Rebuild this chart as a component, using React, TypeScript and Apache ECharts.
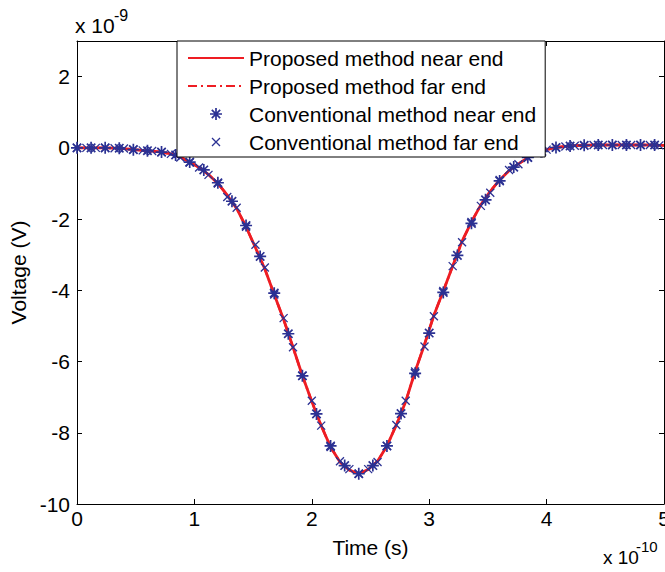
import React, { useEffect, useRef } from 'react';
import * as echarts from 'echarts';

// Time axis values are in units of 1e-10 s, voltage values in units of 1e-9 V
const curveTimes = [
  0, 0.08, 0.16, 0.24, 0.32, 0.40, 0.48, 0.56, 0.64, 0.72,
  0.80, 0.88, 0.96, 1.04, 1.12, 1.20, 1.28, 1.36, 1.44, 1.52,
  1.60, 1.68, 1.76, 1.84, 1.92, 2.00, 2.08, 2.16, 2.24, 2.32,
  2.40, 2.48, 2.56, 2.64, 2.72, 2.80, 2.88, 2.96, 3.04, 3.12,
  3.20, 3.28, 3.36, 3.44, 3.52, 3.60, 3.68, 3.76, 3.84, 3.92,
  4.00, 4.08, 4.16, 4.24, 4.32, 4.40, 4.48, 4.56, 4.64, 4.72,
  4.80, 4.88, 4.96, 5.00,
];
const curveValues = [
  0.00, 0.00, 0.00, 0.00, -0.01, -0.02, -0.05, -0.07, -0.09, -0.12,
  -0.17, -0.26, -0.40, -0.55, -0.75, -1.00, -1.33, -1.70, -2.22, -2.80,
  -3.40, -4.12, -4.82, -5.60, -6.40, -7.12, -7.80, -8.40, -8.82, -9.05,
  -9.15, -9.03, -8.80, -8.37, -7.78, -7.12, -6.28, -5.52, -4.70, -4.02,
  -3.32, -2.62, -2.08, -1.60, -1.22, -0.90, -0.64, -0.45, -0.28, -0.15,
  -0.05, 0.01, 0.04, 0.06, 0.07, 0.08, 0.08, 0.08, 0.08, 0.08,
  0.08, 0.08, 0.07, 0.07,
];

const farTimes = [
  0, 0.08, 0.16, 0.24, 0.32, 0.40, 0.48, 0.56, 0.64, 0.72,
  0.80, 0.88, 0.96, 1.04, 1.12, 1.20, 1.28, 1.36, 1.44, 1.52,
  1.60, 1.68, 1.76, 1.84, 1.92, 2.00, 2.08, 2.16, 2.24, 2.32,
  2.40, 2.48, 2.56, 2.64, 2.72, 2.80, 2.88, 2.96, 3.04, 3.12,
  3.20, 3.28, 3.36, 3.44, 3.52, 3.60, 3.68, 3.76, 3.84, 3.92,
  4.00, 4.08, 4.16, 4.24, 4.32, 4.40, 4.48, 4.56, 4.64, 4.72,
  4.80, 4.88, 4.96,
];
const farValues = [
  0.00, 0.00, 0.00, 0.00, -0.01, -0.02, -0.05, -0.07, -0.09, -0.12,
  -0.17, -0.27, -0.41, -0.55, -0.76, -1.00, -1.38, -1.68, -2.22, -2.72,
  -3.36, -4.12, -4.78, -5.60, -6.40, -7.10, -7.80, -8.40, -8.80, -9.02,
  -9.15, -9.02, -8.82, -8.37, -7.78, -7.10, -6.28, -5.58, -4.73, -4.02,
  -3.32, -2.65, -2.08, -1.63, -1.26, -0.90, -0.62, -0.46, -0.28, -0.15,
  -0.05, 0.01, 0.04, 0.06, 0.07, 0.08, 0.08, 0.08, 0.08, 0.08,
  0.08, 0.08, 0.07,
];

const nearTimes = [
  0, 0.12, 0.24, 0.36, 0.48, 0.60, 0.72, 0.84, 0.96, 1.08,
  1.20, 1.32, 1.44, 1.56, 1.68, 1.80, 1.92, 2.04, 2.16, 2.28,
  2.40, 2.52, 2.64, 2.76, 2.88, 3.00, 3.12, 3.24, 3.36, 3.48,
  3.60, 3.72, 3.84, 3.96, 4.08, 4.20, 4.32, 4.44, 4.56, 4.68,
  4.80, 4.92,
];
const nearValues = [
  0.00, 0.00, 0.00, -0.01, -0.05, -0.08, -0.12, -0.20, -0.40, -0.62,
  -0.98, -1.50, -2.18, -3.05, -4.08, -5.22, -6.40, -7.47, -8.37, -8.92,
  -9.15, -8.92, -8.37, -7.46, -6.33, -5.20, -4.06, -3.02, -2.12, -1.46,
  -0.93, -0.54, -0.27, -0.10, 0.01, 0.05, 0.07, 0.08, 0.08, 0.08,
  0.08, 0.08,
];

const seriesNames = [
  'Proposed method near end',
  'Proposed method far end',
  'Conventional method near end',
  'Conventional method far end',
];

const xTickLabels = ['0', '1', '2', '3', '4', '5'];

const RED = '#ee1d23';
const BLUE = '#2b3193';
const FONT = 'Liberation Sans, Arial, Helvetica, sans-serif';

const STAR = 'path://M5,0 L5,10 M0,5 L10,5 M1.5,1.5 L8.5,8.5 M1.5,8.5 L8.5,1.5';
const CROSS = 'path://M0,0 M1.5,1.5 L7.5,7.5 M1.5,7.5 L7.5,1.5 M9,9';

const zip = (xs: number[], ys: number[]) => xs.map((x, i) => [x, ys[i]]);

export default function App() {
  const ref = useRef<HTMLDivElement>(null);

  useEffect(() => {
    if (!ref.current) return;
    const chart = echarts.init(ref.current, null, { renderer: 'svg' });
    const axisLine = { show: true, onZero: false, lineStyle: { color: '#000', width: 1 } };
    const tick = { show: true, inside: true, length: 5, lineStyle: { color: '#000', width: 1 } };
    const hiddenSymbol = { color: 'rgba(0,0,0,0)', borderColor: 'rgba(0,0,0,0)', borderWidth: 0 };
    chart.setOption({
      animation: false,
      backgroundColor: '#fff',
      textStyle: { fontFamily: FONT },
      grid: { left: 77, top: 41, right: 1, bottom: 68, containLabel: false, outerBoundsMode: 'none' },
      legend: {
        orient: 'vertical',
        left: 177,
        top: 41,
        backgroundColor: '#fff',
        borderColor: '#000',
        borderWidth: 1,
        borderRadius: 0,
        padding: [6, 9, 4, 10],
        itemWidth: 56,
        itemHeight: 12,
        itemGap: 6,
        symbolKeepAspect: true,
        textStyle: { fontSize: 21, color: '#000', fontFamily: FONT, lineHeight: 22 },
        data: [
          { name: seriesNames[0], itemStyle: hiddenSymbol },
          { name: seriesNames[1], itemStyle: hiddenSymbol },
          { name: seriesNames[2], icon: STAR, itemStyle: { color: 'rgba(0,0,0,0)', borderColor: BLUE, borderWidth: 1.7 } },
          { name: seriesNames[3], icon: CROSS, itemStyle: { color: 'rgba(0,0,0,0)', borderColor: BLUE, borderWidth: 1.3 } },
        ],
      },
      xAxis: [
        {
          type: 'value',
          min: 0,
          max: 5,
          interval: 1,
          position: 'bottom',
          axisLine,
          axisTick: tick,
          splitLine: { show: false },
          axisLabel: {
            fontSize: 21,
            color: '#000',
            fontFamily: FONT,
            margin: 4,
            formatter: (v: number) => xTickLabels[Math.round(v)] ?? String(v),
          },
          name: 'Time (s)',
          nameLocation: 'middle',
          nameGap: 33,
          nameTextStyle: { fontSize: 21, color: '#000', fontFamily: FONT },
        },
        {
          type: 'value',
          min: 0,
          max: 5,
          interval: 1,
          position: 'top',
          axisLine,
          axisTick: tick,
          splitLine: { show: false },
          axisLabel: { show: false },
        },
      ],
      yAxis: [
        {
          type: 'value',
          min: -10,
          max: 3,
          interval: 2,
          position: 'left',
          axisLine,
          axisTick: tick,
          splitLine: { show: false },
          axisLabel: {
            fontSize: 21,
            color: '#000',
            fontFamily: FONT,
            margin: 7,
            showMaxLabel: false,
          },
          name: 'Voltage (V)',
          nameLocation: 'middle',
          nameGap: 46,
          nameTextStyle: { fontSize: 21, color: '#000', fontFamily: FONT },
        },
        {
          type: 'value',
          min: -10,
          max: 3,
          interval: 2,
          position: 'right',
          axisLine,
          axisTick: tick,
          splitLine: { show: false },
          axisLabel: { show: false },
        },
      ],
      series: [
        {
          name: seriesNames[0],
          type: 'line',
          data: zip(curveTimes, curveValues),
          symbol: 'none',
          showSymbol: false,
          color: RED,
          lineStyle: { color: RED, width: 2.8 },
          z: 2,
        },
        {
          name: seriesNames[1],
          type: 'line',
          data: zip(curveTimes, curveValues),
          symbol: 'none',
          showSymbol: false,
          color: RED,
          lineStyle: { color: RED, width: 2.4, type: [9, 4, 2, 4] },
          z: 2,
        },
        {
          name: seriesNames[2],
          type: 'scatter',
          data: zip(nearTimes, nearValues),
          symbol: STAR,
          symbolSize: 12,
          itemStyle: { color: 'rgba(0,0,0,0)', borderColor: BLUE, borderWidth: 1.7, opacity: 1 },
          z: 3,
        },
        {
          name: seriesNames[3],
          type: 'scatter',
          data: zip(farTimes, farValues),
          symbol: CROSS,
          symbolSize: 12,
          itemStyle: { color: 'rgba(0,0,0,0)', borderColor: BLUE, borderWidth: 1.3, opacity: 1 },
          z: 3,
        },
      ],
      graphic: [
        {
          type: 'text',
          x: 75,
          y: 25,
          style: { text: 'x 10', font: `21px ${FONT}`, fill: '#000', textAlign: 'left', textVerticalAlign: 'middle' },
        },
        {
          type: 'text',
          x: 114,
          y: 15,
          style: { text: '-9', font: `16px ${FONT}`, fill: '#000', textAlign: 'left', textVerticalAlign: 'middle' },
        },
        {
          type: 'text',
          x: 603,
          y: 557,
          style: { text: 'x 10', font: `19px ${FONT}`, fill: '#000', textAlign: 'left', textVerticalAlign: 'middle' },
        },
        {
          type: 'text',
          x: 636,
          y: 546,
          style: { text: '-10', font: `15px ${FONT}`, fill: '#000', textAlign: 'left', textVerticalAlign: 'middle' },
        },
      ],
    });
    return () => chart.dispose();
  }, []);

  return (
    <div
      ref={ref}
      style={{ position: 'absolute', left: 0, top: 0, width: 665, height: 572, background: '#fff' }}
    />
  );
}
